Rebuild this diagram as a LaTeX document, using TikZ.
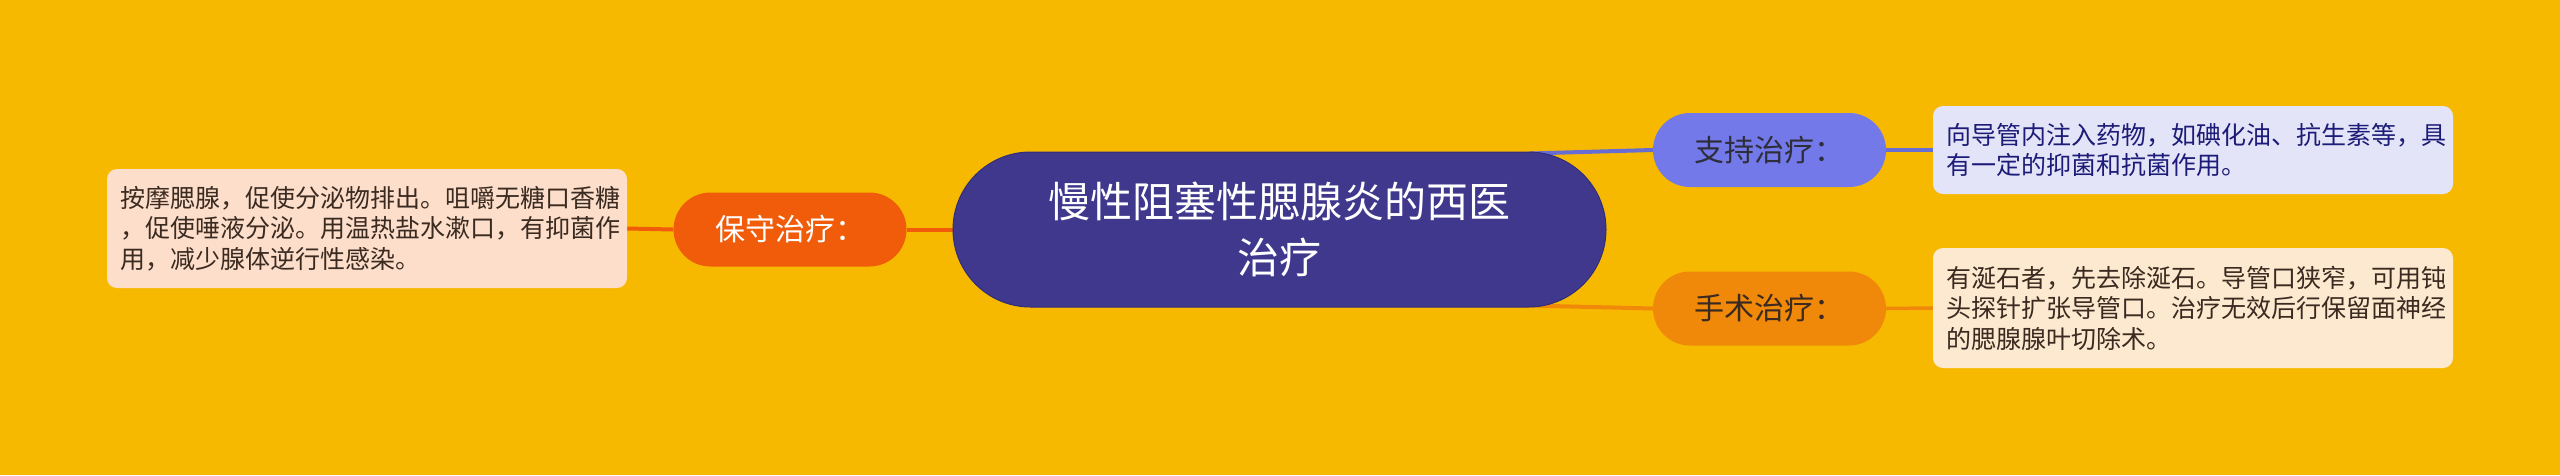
\documentclass[tikz,border=0pt]{standalone}
\usepackage{fontspec}
\setmainfont{Noto Sans CJK SC}
\usetikzlibrary{shapes.misc,calc,backgrounds}
\definecolor{bgc}{HTML}{F6B900}
\definecolor{rootc}{HTML}{3F388C}
\definecolor{rootline}{HTML}{332D78}
\definecolor{consc}{HTML}{F05C0A}
\definecolor{suppc}{HTML}{7479EA}
\definecolor{surgc}{HTML}{F0880A}
\definecolor{leafl}{HTML}{FCDECB}
\definecolor{leaft}{HTML}{E4E4F8}
\definecolor{leafb}{HTML}{FDE9D0}
\definecolor{darktext}{HTML}{3A2A20}
\definecolor{navytext}{HTML}{1C1C78}
\definecolor{midtext}{HTML}{2E2E3A}
\begin{document}
\begin{tikzpicture}[x=1pt,y=-1pt,
  leafbox/.style={rectangle, rounded corners=10pt, text width=494pt, inner xsep=13pt, inner ysep=0pt,
    minimum width=520pt, align=left, font=\fontsize{25}{30.5}\selectfont},
  midbox/.style={rounded rectangle, minimum width=233pt, minimum height=74pt, inner sep=0pt,
    font=\fontsize{30}{36}\selectfont},
  conn/.style={line width=4pt}
]
\useasboundingbox (0,0) rectangle (2560,475);

\node[leafbox, fill=leafl, text=darktext, minimum height=119pt] (leftbox) at (367,228.5)
  {按摩腮腺，促使分泌物排出。咀嚼无糖口香糖\\，促使唾液分泌。用温热盐水漱口，有抑菌作\\用，减少腺体逆行性感染。};
\node[midbox, fill=consc, text=white] (cons) at (790,229.5) {保守治疗：};
\node[rounded rectangle, fill=rootc, draw=rootline, line width=1pt, minimum width=653pt, minimum height=155pt,
  inner sep=0pt, align=center, text=white, font=\fontsize{42}{56}\selectfont] (root) at (1279.5,229.5)
  {慢性阻塞性腮腺炎的西医\\治疗};
\node[midbox, fill=suppc, text=midtext] (supp) at (1769.5,150) {支持治疗：};
\node[midbox, fill=surgc, text=darktext] (surg) at (1769.5,308.5) {手术治疗：};
\node[leafbox, fill=leaft, text=navytext, minimum height=88pt] (rtop) at (2193,150)
  {向导管内注入药物，如碘化油、抗生素等，具\\有一定的抑菌和抗菌作用。};
\node[leafbox, fill=leafb, text=darktext, minimum height=120pt] (rbot) at (2193,308)
  {有涎石者，先去除涎石。导管口狭窄，可用钝\\头探针扩张导管口。治疗无效后行保留面神经\\的腮腺腺叶切除术。};

\begin{scope}[on background layer]
\fill[bgc] (0,0) rectangle (2560,475);
\draw[conn, consc] (leftbox.east) -- (cons.west);
\draw[conn, consc] (cons.east) -- (root.west);
\draw[conn, suppc!90!black] ($(root.north)+(250,2)$) -- (supp.west);
\draw[conn, surgc] ($(root.south)+(250,-2)$) -- (surg.west);
\draw[line width=3.5pt, suppc!90!black] (supp.east) -- (rtop.west);
\draw[line width=3.5pt, surgc] (surg.east) -- (rbot.west);
\end{scope}
\end{tikzpicture}
\end{document}
